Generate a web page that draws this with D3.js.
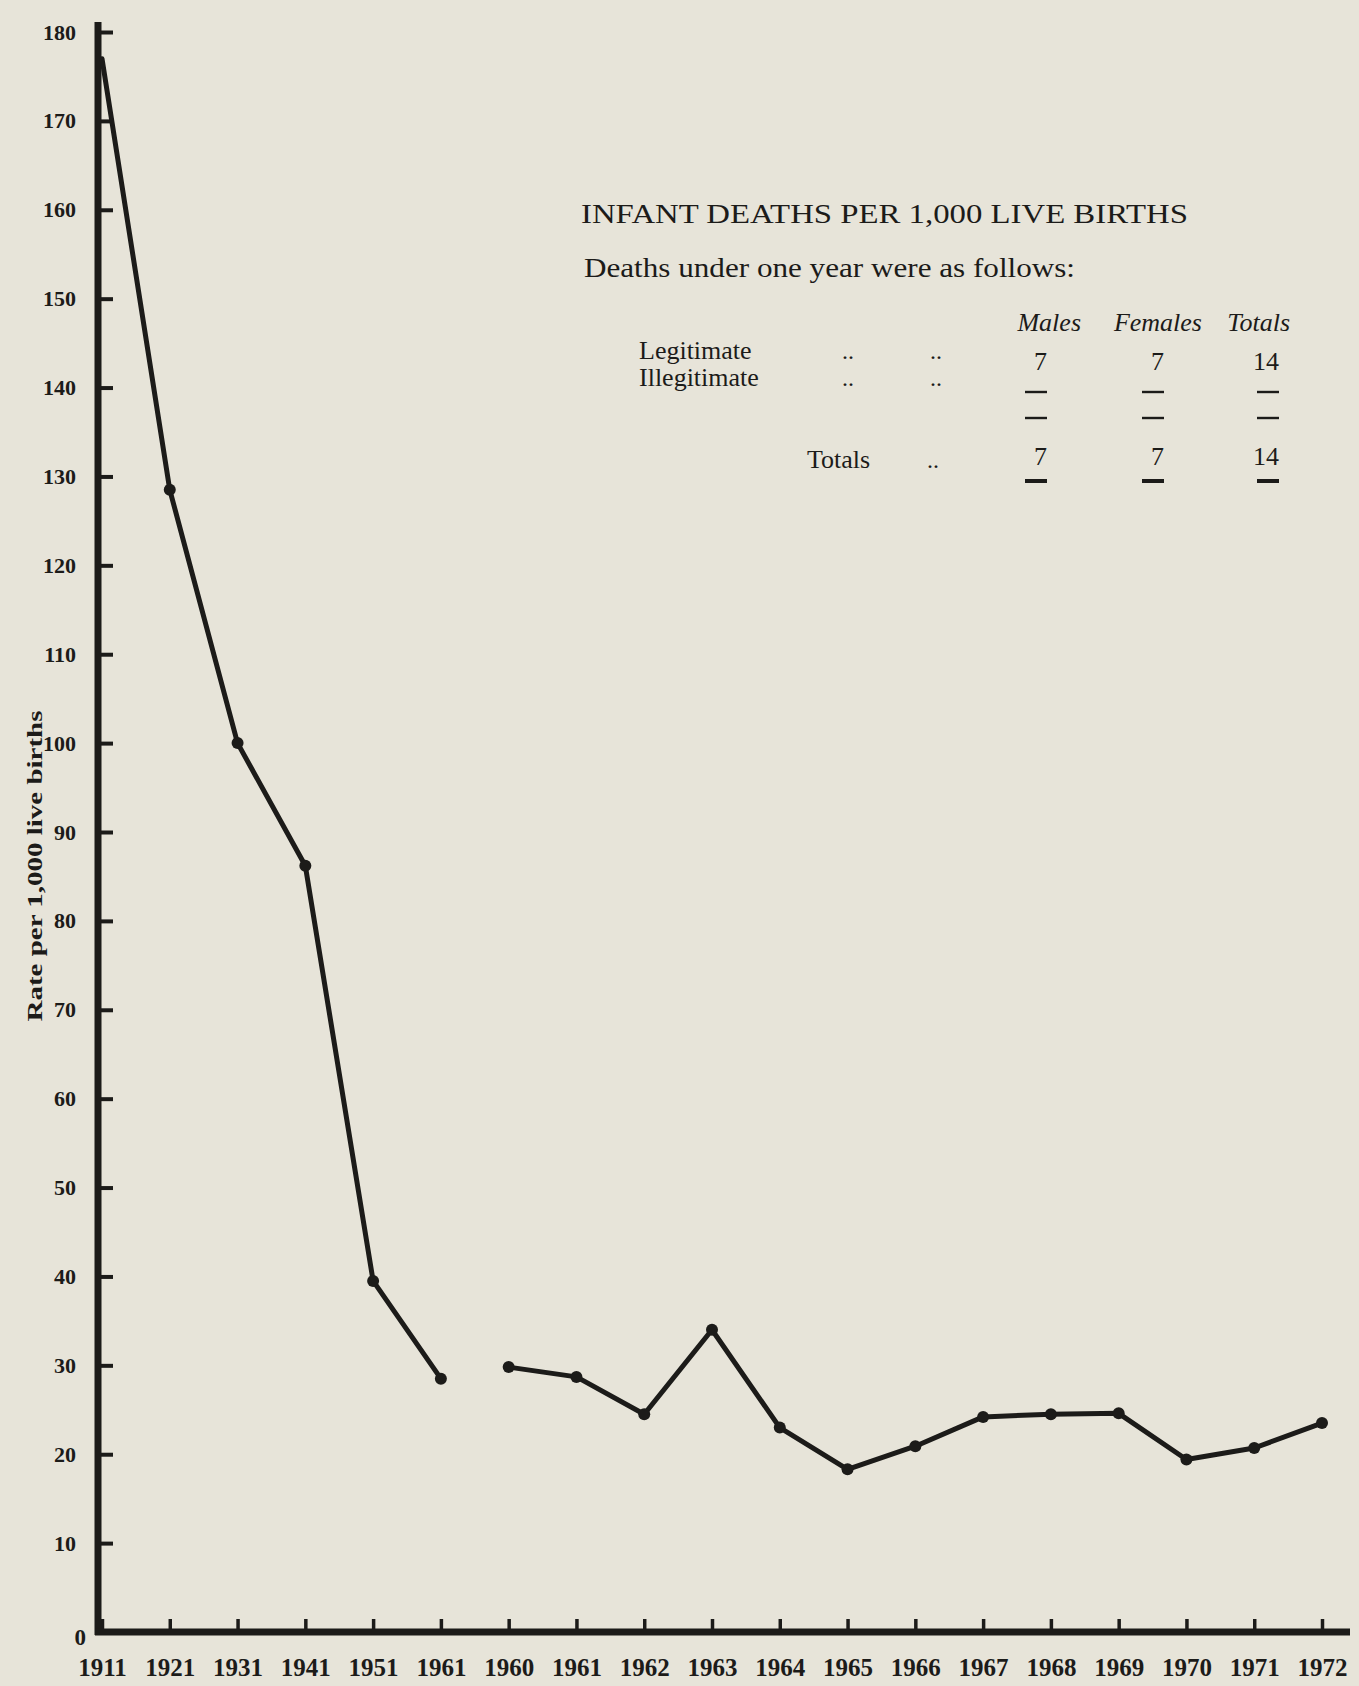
<!DOCTYPE html>
<html>
<head>
<meta charset="utf-8">
<script src="https://cdn.jsdelivr.net/npm/d3@7"></script>
<style>
  body { margin: 0; background: #e7e4d9; }
  svg { display: block; }
  .tick text { font-family: "Liberation Serif", serif; font-weight: bold; fill: #1c1b19; }
  .tbl { font-family: "Liberation Serif", serif; fill: #1c1b19; }
</style>
</head>
<body>
<div id="chart"></div>
<script>
var width = 1359, height = 1686;

// rates per 1,000 live births
var decadeYears = ["1911", "1921", "1931", "1941", "1951", "1961"];
var decadeRates = [177, 128.5, 100, 86.2, 39.5, 28.5];
var annualYears = ["1960", "1961", "1962", "1963", "1964", "1965", "1966",
                   "1967", "1968", "1969", "1970", "1971", "1972"];
var annualRates = [29.8, 28.7, 24.5, 34, 23, 18.3, 20.9, 24.2, 24.5, 24.6, 19.4, 20.7, 23.5];
var yTicks = [0, 10, 20, 30, 40, 50, 60, 70, 80, 90, 100, 110, 120, 130, 140, 150, 160, 170, 180];

// inset table
var colHeads = ["Males", "Females", "Totals"];
var legitimate = ["7", "7", "14"];
var totals = ["7", "7", "14"];

var keys = decadeYears.map(function(d) { return "d" + d; })
  .concat(annualYears.map(function(d) { return "a" + d; }));

var svg = d3.select("#chart").append("svg")
  .attr("width", width)
  .attr("height", height);

svg.append("rect").attr("width", width).attr("height", height).attr("fill", "#e7e4d9");

var x = d3.scalePoint().domain(keys).range([102, 1322]);
var y = d3.scaleLinear().domain([0, 180]).range([1632, 32]);

// y axis
var gy = svg.append("g")
  .attr("transform", "translate(" + 98 + ",0)")
  .call(d3.axisLeft(y).tickValues(yTicks).tickSize(-15).tickPadding(22));
gy.select(".domain").remove();
gy.selectAll(".tick line").attr("stroke", "#1c1b19").attr("stroke-width", 4);
gy.selectAll(".tick text").attr("font-size", 22);
gy.selectAll(".tick").filter(function(d) { return d === 0; })
  .select("text").attr("dy", "0.55em").attr("x", -12).attr("font-size", 23);

// x axis
var gx = svg.append("g")
  .attr("transform", "translate(0," + 1632 + ")")
  .call(d3.axisBottom(x).tickSize(-13).tickPadding(26)
    .tickFormat(function(d) { return d.slice(1); }));
gx.select(".domain").remove();
gx.selectAll(".tick line").attr("stroke", "#1c1b19").attr("stroke-width", 3.5);
gx.selectAll(".tick text").attr("font-size", 25);

// thick axis lines
svg.append("line").attr("x1", 98).attr("x2", 98).attr("y1", 22).attr("y2", 1635)
  .attr("stroke", "#1c1b19").attr("stroke-width", 7);
svg.append("line").attr("x1", 95).attr("x2", 1350).attr("y1", 1632).attr("y2", 1632)
  .attr("stroke", "#1c1b19").attr("stroke-width", 7);

// y title
svg.append("text")
  .attr("transform", "translate(42,866) rotate(-90)")
  .attr("text-anchor", "middle")
  .attr("font-family", "Liberation Serif, serif")
  .attr("font-weight", "bold")
  .attr("font-size", 21)
  .attr("textLength", 311)
  .attr("lengthAdjust", "spacingAndGlyphs")
  .attr("fill", "#1c1b19")
  .text("Rate per 1,000 live births");

// line segments
var seg1 = decadeYears.map(function(d, i) { return { k: "d" + d, v: decadeRates[i] }; });
var seg2 = annualYears.map(function(d, i) { return { k: "a" + d, v: annualRates[i] }; });

var line = d3.line()
  .x(function(d) { return x(d.k); })
  .y(function(d) { return y(d.v); });

[seg1, seg2].forEach(function(seg) {
  svg.append("path")
    .datum(seg)
    .attr("d", line)
    .attr("fill", "none")
    .attr("stroke", "#1c1b19")
    .attr("stroke-width", 5)
    .attr("stroke-linejoin", "round")
    .attr("stroke-linecap", "round");

  svg.selectAll(null)
    .data(seg.slice(seg === seg1 ? 1 : 0))
    .enter().append("circle")
    .attr("cx", function(d) { return x(d.k); })
    .attr("cy", function(d) { return y(d.v); })
    .attr("r", 6)
    .attr("fill", "#1c1b19");
});

// inset table
var tbl = svg.append("g").attr("class", "tbl");

tbl.append("text").attr("x", 581).attr("y", 223).attr("font-size", 28)
  .attr("textLength", 607).attr("lengthAdjust", "spacingAndGlyphs")
  .text("INFANT DEATHS PER 1,000 LIVE BIRTHS");

tbl.append("text").attr("x", 584).attr("y", 277).attr("font-size", 27)
  .attr("textLength", 491).attr("lengthAdjust", "spacingAndGlyphs")
  .text("Deaths under one year were as follows:");

var colRight = [1047, 1164, 1279];
var headRight = [1081, 1202, 1290];

tbl.selectAll(".head")
  .data(colHeads).enter().append("text")
  .attr("class", "head")
  .attr("x", function(d, i) { return headRight[i]; })
  .attr("y", 331)
  .attr("text-anchor", "end")
  .attr("font-size", 26)
  .attr("font-style", "italic")
  .text(function(d) { return d; });

var rows = [["Legitimate", 359, 639], ["Illegitimate", 386, 639], ["Totals", 468, 807]];
rows.forEach(function(r) {
  tbl.append("text").attr("x", r[2]).attr("y", r[1]).attr("font-size", 26).text(r[0]);
});
[[359, [842, 930]], [386, [842, 930]], [468, [927]]].forEach(function(r) {
  r[1].forEach(function(px) {
    tbl.append("text").attr("x", px).attr("y", r[0]).attr("font-size", 24).text("..");
  });
});

tbl.selectAll(".leg")
  .data(legitimate).enter().append("text")
  .attr("x", function(d, i) { return colRight[i]; })
  .attr("y", 370)
  .attr("text-anchor", "end")
  .attr("font-size", 26)
  .text(function(d) { return d; });

tbl.selectAll(".tot")
  .data(totals).enter().append("text")
  .attr("x", function(d, i) { return colRight[i]; })
  .attr("y", 465)
  .attr("text-anchor", "end")
  .attr("font-size", 26)
  .text(function(d) { return d; });

colRight.forEach(function(cx) {
  [392, 418].forEach(function(yy) {
    tbl.append("line").attr("x1", cx - 22).attr("x2", cx).attr("y1", yy).attr("y2", yy)
      .attr("stroke", "#1c1b19").attr("stroke-width", 2.4);
  });
  tbl.append("line").attr("x1", cx - 22).attr("x2", cx).attr("y1", 481).attr("y2", 481)
    .attr("stroke", "#1c1b19").attr("stroke-width", 4);
});
</script>
</body>
</html>
